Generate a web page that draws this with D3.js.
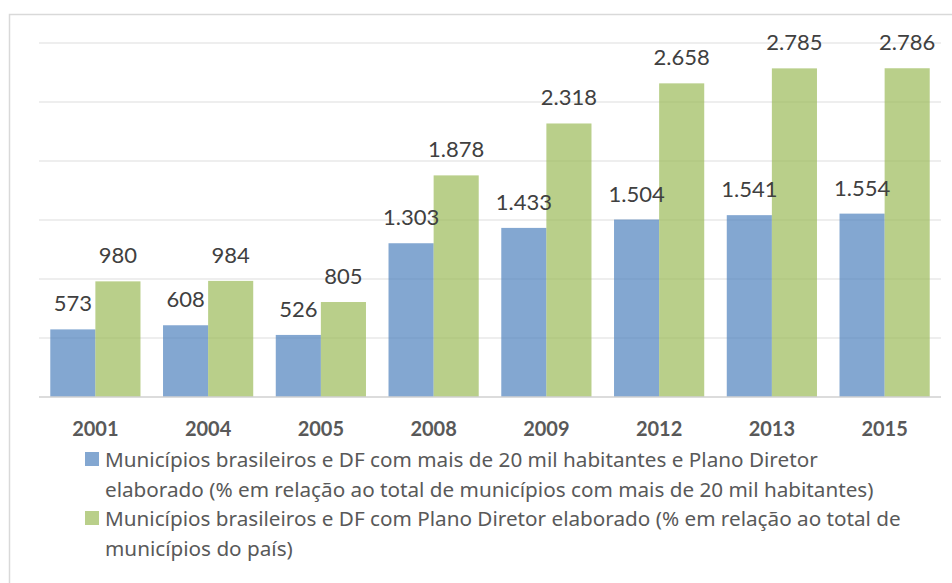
<!DOCTYPE html>
<html>
<head>
<meta charset="utf-8">
<script src="https://cdn.jsdelivr.net/npm/d3@7"></script>
<style>
  body { margin: 0; background: #fff; }
  text { font-family: Lato, 'Noto Sans', sans-serif; }
  .legend text { font-family: 'Noto Sans', sans-serif; }
</style>
</head>
<body>
<div id="chart"></div>
<script>
const years = ['2001', '2004', '2005', '2008', '2009', '2012', '2013', '2015']
const maisDe20Mil = [573, 608, 526, 1303, 1433, 1504, 1541, 1554]
const totalPais = [980, 984, 805, 1878, 2318, 2658, 2785, 2786]
const yTicks = [0, 500, 1000, 1500, 2000, 2500, 3000]
const legendLines = [
  ['Municípios brasileiros e DF com mais de 20 mil habitantes e Plano Diretor',
    'elaborado (% em relação ao total de municípios com mais de 20 mil habitantes)'],
  ['Municípios brasileiros e DF com Plano Diretor elaborado (% em relação ao total de',
    'municípios do país)']
]
const seriesKeys = ['mais20', 'total']
const colors = ['#4f81bd', '#9bbb59']

const width = 952
const height = 583
const margin = { top: 43, left: 39, right: 11, bottom: 186 }

const svg = d3
  .select('#chart')
  .append('svg')
  .attr('width', width)
  .attr('height', height)

// chart frame
svg
  .append('rect')
  .attr('x', 9.5)
  .attr('y', 14.5)
  .attr('width', 1000)
  .attr('height', 700)
  .attr('fill', 'none')
  .attr('stroke', '#d9d9d9')
  .attr('stroke-width', 1.5)

const data = years.map((y, i) => ({
  year: y,
  mais20: maisDe20Mil[i],
  total: totalPais[i]
}))

const xScale = d3
  .scaleBand()
  .domain(years)
  .range([margin.left, width - margin.right])
  .paddingInner(0.2)
  .paddingOuter(0.1)

const xSub = d3
  .scaleBand()
  .domain(seriesKeys)
  .range([0, xScale.bandwidth()])

const yScale = d3
  .scaleLinear()
  .domain([0, 3000])
  .range([height - margin.bottom, margin.top])

// gridlines
svg
  .append('g')
  .selectAll('line')
  .data(yTicks.slice(1))
  .enter()
  .append('line')
  .attr('x1', margin.left)
  .attr('x2', width - margin.right)
  .attr('y1', d => yScale(d))
  .attr('y2', d => yScale(d))
  .attr('stroke', '#e8e8e8')
  .attr('stroke-width', 1.5)

const groups = svg
  .append('g')
  .selectAll('g')
  .data(data)
  .enter()
  .append('g')
  .attr('transform', d => 'translate(' + xScale(d.year) + ',0)')

groups
  .selectAll('rect')
  .data(d => seriesKeys.map((k, i) => ({ key: k, value: d[k], color: colors[i] })))
  .enter()
  .append('rect')
  .attr('x', d => xSub(d.key))
  .attr('width', xSub.bandwidth())
  .attr('y', d => yScale(d.value))
  .attr('height', d => yScale(0) - yScale(d.value))
  .attr('fill', d => d.color)
  .attr('fill-opacity', 0.7)

groups
  .selectAll('text')
  .data(d => seriesKeys.map(k => ({ key: k, value: d[k] })))
  .enter()
  .append('text')
  .attr('x', d => xSub(d.key) + xSub.bandwidth() / 2)
  .attr('y', d => yScale(d.value) - 18)
  .attr('text-anchor', 'middle')
  .attr('font-size', 22)
  .attr('fill', '#404040')
  .text(d => d3.format(',')(d.value).replace(',', '.'))

// x axis
const xAxis = d3.axisBottom(xScale).tickSize(0).tickPadding(25)
svg
  .append('g')
  .attr('class', 'x-axis')
  .attr('transform', 'translate(0,' + yScale(0) + ')')
  .call(xAxis)
  .call(g => g.select('.domain').remove())
  .selectAll('text')
  .attr('font-size', 20)
  .attr('font-weight', 'bold')
  .attr('fill', '#595959')

svg
  .append('line')
  .attr('x1', margin.left)
  .attr('x2', width - margin.right)
  .attr('y1', yScale(0))
  .attr('y2', yScale(0))
  .attr('stroke', '#d0d0d0')
  .attr('stroke-width', 1.5)

// legend
const legend = svg.append('g').attr('class', 'legend')
legendLines.forEach((lines, i) => {
  const top = 452 + i * 59
  legend
    .append('rect')
    .attr('x', 85)
    .attr('y', top)
    .attr('width', 14)
    .attr('height', 14)
    .attr('fill', colors[i])
    .attr('fill-opacity', 0.7)
  lines.forEach((line, j) => {
    legend
      .append('text')
      .attr('x', 105)
      .attr('y', top + 15 + j * 29.5)
      .attr('font-size', 20.7)
      .attr('fill', '#595959')
      .text(line)
  })
})
</script>
</body>
</html>
